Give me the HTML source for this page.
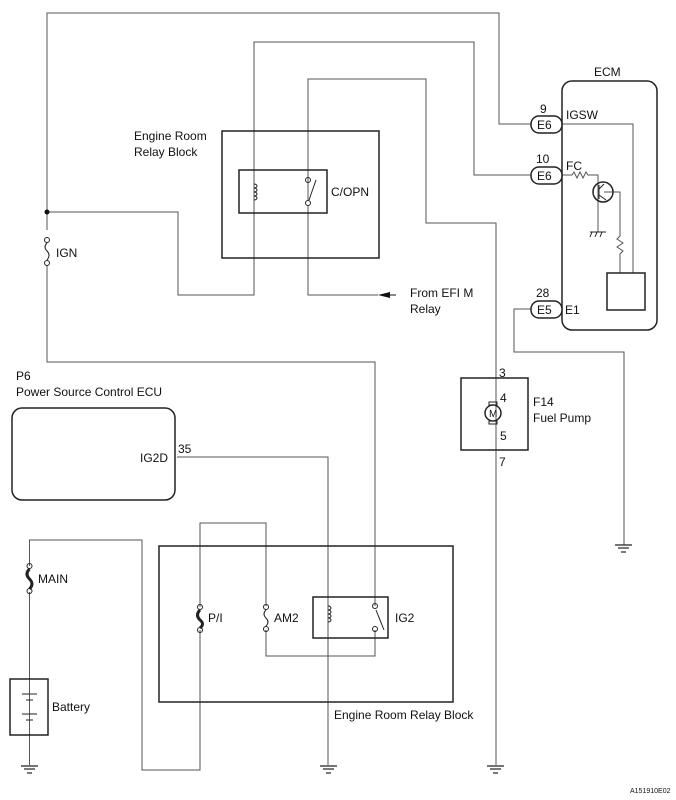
<!DOCTYPE html>
<html><head><meta charset="utf-8"><style>
html,body{margin:0;padding:0;background:#fff;}
svg{display:block;}
text{font-family:"Liberation Sans",sans-serif;font-size:12px;fill:#111;}
</style></head><body>
<svg width="676" height="800" viewBox="0 0 676 800" xmlns="http://www.w3.org/2000/svg">
<g fill="none" stroke="#555" stroke-width="1">
<!-- top wire -->
<polyline points="47,230 47,13 499,13 499,124 531,124"/>
<polyline points="47,265 47,362 375,362 375,606"/>
<polyline points="47,212 178,212 178,295 254,295 254,42 474,42 474,175 531,175"/>
<polyline points="308,200 308,79 426,79 426,223 496,223 496,765"/>
<polyline points="308,206 308,295 378,295"/>
<!-- E1 ground -->
<polyline points="531,309 514,309 514,352 624,352 624,545"/>
<!-- IG2D -->
<polyline points="177,457 328,457 328,765"/>
<!-- lower -->
<polyline points="29.5,566 29.5,540 142,540 142,770 200,770 200,630"/>
<polyline points="200,607 200,523 266,523 266,606"/>
<polyline points="266,630 266,656 375,656 375,630"/>
<polyline points="29.5,592 29.5,765"/>
<!-- ECM internals -->
<polyline points="562,124 633,124 633,273"/>
<polyline points="562,175 572,175 574,172 577,178 580,172 583,178 586,172 588,175 598,175 598,186"/>
<polyline points="598,186 598,232"/>
<polyline points="604,192 620,192 620,236 617,239 623,243 617,247 623,251 620,254 620,273"/>
</g>
<g fill="none" stroke="#222" stroke-width="1.5">
<rect x="222" y="131" width="157" height="127"/>
<rect x="239" y="170" width="88" height="43"/>
<rect x="159" y="546" width="294" height="156"/>
<rect x="313" y="597" width="75" height="41"/>
<rect x="562" y="81" width="95" height="249" rx="10"/>
<rect x="607" y="273" width="38" height="37"/>
<rect x="12" y="408" width="163" height="92" rx="10"/>
<rect x="461" y="378" width="67" height="72"/>
<rect x="10" y="679" width="38" height="56"/>
<rect x="531" y="116" width="31" height="17" rx="8" fill="#fff"/>
<rect x="531" y="167" width="31" height="17" rx="8" fill="#fff"/>
<rect x="531" y="301" width="31" height="17" rx="8" fill="#fff"/>
<circle cx="603" cy="192" r="10"/>
<circle cx="493" cy="413" r="8"/>
</g>
<g fill="none" stroke="#222" stroke-width="1">
<!-- transistor internals -->
<line x1="599" y1="185" x2="599" y2="199"/>
<line x1="599" y1="189" x2="604" y2="184"/>
<line x1="599" y1="195" x2="606" y2="200"/>
<!-- ECM ground hatch -->
<line x1="590" y1="232" x2="606" y2="232"/>
<line x1="592" y1="232" x2="590" y2="237"/><line x1="597" y1="232" x2="595" y2="237"/><line x1="602" y1="232" x2="600" y2="237"/>
<!-- coils -->
<path d="M254,184 a3,2 0 1 1 0,4 a3,2 0 1 1 0,4 a3,2 0 1 1 0,4 a3,2 0 1 1 0,4"/>
<path d="M328,606 a3,2 0 1 1 0,4 a3,2 0 1 1 0,4 a3,2 0 1 1 0,4 a3,2 0 1 1 0,4"/>
<!-- switches -->
<circle cx="308" cy="180" r="2.5"/><circle cx="308" cy="203" r="2.5"/>
<line x1="309" y1="200" x2="316" y2="180"/>
<circle cx="375" cy="606" r="2.5"/><circle cx="375" cy="629" r="2.5"/>
<line x1="376" y1="610" x2="384" y2="630"/>
<!-- fuses -->
<circle cx="47" cy="240" r="2.5"/><circle cx="47" cy="263" r="2.5"/>
<path d="M47,243 q-4,4 0,8 q4,4 0,9"/>
<circle cx="266" cy="607" r="2.5"/><circle cx="266" cy="629" r="2.5"/>
<path d="M266,610 q-4,4 0,8 q4,4 0,8"/>
<circle cx="29.5" cy="566" r="2.5"/><circle cx="29.5" cy="591" r="2.5"/>
<path d="M29.5,569 q-5,5 0,10 q5,5 0,10" stroke-width="3"/>
<circle cx="200" cy="607" r="2.5"/><circle cx="200" cy="630" r="2.5"/>
<path d="M200,610 q-5,5 0,10 q5,4 0,8" stroke-width="3"/>
<!-- battery -->
<line x1="22" y1="694" x2="37" y2="694"/><line x1="26" y1="700" x2="33" y2="700"/>
<line x1="22" y1="714" x2="37" y2="714"/><line x1="26" y1="720" x2="33" y2="720"/>
<!-- grounds -->
<g stroke-width="1.2">
<line x1="21" y1="766" x2="38" y2="766"/><line x1="24" y1="769" x2="35" y2="769"/><line x1="27" y1="773" x2="32" y2="773"/>
<line x1="320" y1="766" x2="337" y2="766"/><line x1="323" y1="769" x2="334" y2="769"/><line x1="326" y1="773" x2="331" y2="773"/>
<line x1="487" y1="766" x2="504" y2="766"/><line x1="490" y1="769" x2="501" y2="769"/><line x1="493" y1="773" x2="498" y2="773"/>
<line x1="615" y1="545" x2="632" y2="545"/><line x1="618" y1="548" x2="629" y2="548"/><line x1="621" y1="552" x2="626" y2="552"/>
</g>
<!-- motor brushes -->
<rect x="489" y="402" width="8" height="3"/><rect x="489" y="421" width="8" height="3"/>
</g>
<circle cx="47" cy="212" r="2.5" fill="#111"/>
<polygon points="378,295 390,292 390,298" fill="#111"/>
<line x1="390" y1="295" x2="396" y2="295" stroke="#111"/>
<text x="134" y="140">Engine Room</text>
<text x="134" y="156">Relay Block</text>
<text x="331" y="196">C/OPN</text>
<text x="56" y="257">IGN</text>
<text x="410" y="297">From EFI M</text>
<text x="410" y="313">Relay</text>
<text x="594" y="76">ECM</text>
<text x="540" y="113">9</text>
<text x="536" y="163">10</text>
<text x="536" y="297">28</text>
<text x="537" y="129">E6</text>
<text x="537" y="180">E6</text>
<text x="537" y="314">E5</text>
<text x="566" y="119">IGSW</text>
<text x="566" y="170">FC</text>
<text x="565" y="314">E1</text>
<text x="16" y="380">P6</text>
<text x="16" y="396">Power Source Control ECU</text>
<text x="140" y="462">IG2D</text>
<text x="178" y="453">35</text>
<text x="499" y="377">3</text>
<text x="500" y="402">4</text>
<text x="500" y="440">5</text>
<text x="499" y="466">7</text>
<text x="489" y="417" style="font-size:10px">M</text>
<text x="533" y="406">F14</text>
<text x="533" y="422">Fuel Pump</text>
<text x="38" y="583">MAIN</text>
<text x="208" y="622">P/I</text>
<text x="274" y="622">AM2</text>
<text x="395" y="622">IG2</text>
<text x="52" y="711">Battery</text>
<text x="334" y="719">Engine Room Relay Block</text>
<text x="630" y="793" style="font-size:7px">A151910E02</text>
</svg>
</body></html>
